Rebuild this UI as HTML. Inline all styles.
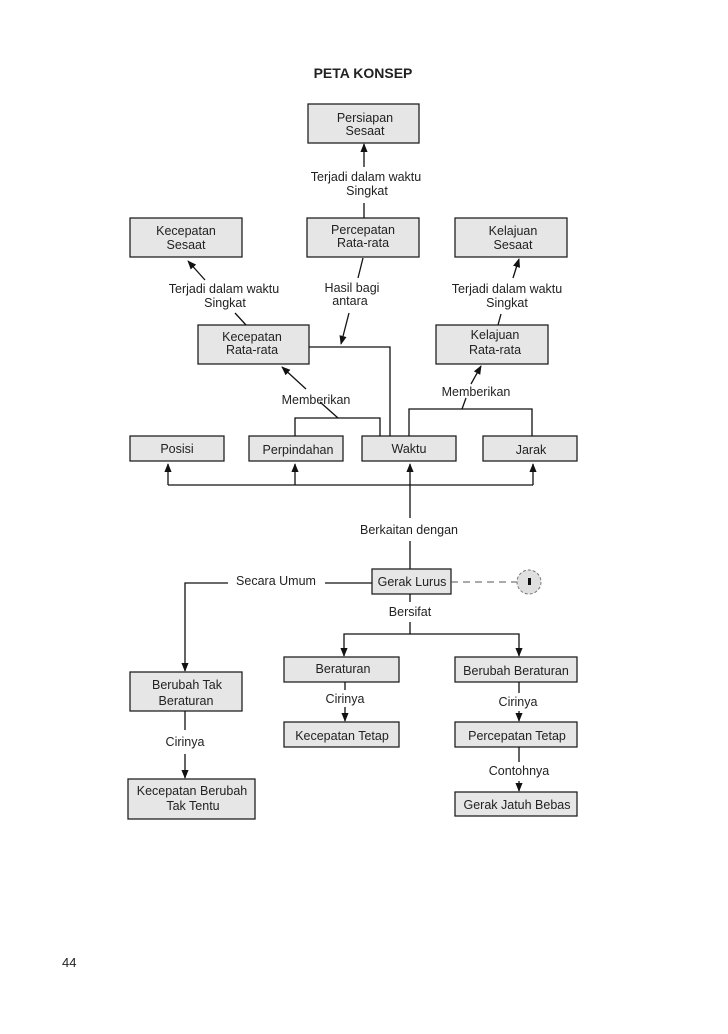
<!DOCTYPE html>
<html><head><meta charset="utf-8"><style>
html,body{margin:0;padding:0;background:#fff;}
svg{display:block;}
text{font-family:"Liberation Sans",Arial,sans-serif;font-size:12.5px;fill:#222;}
.b{fill:#e6e6e6;stroke:#222;stroke-width:1.3;}
.l{stroke:#111;stroke-width:1.3;fill:none;}
</style></head><body>
<svg width="728" height="1034" viewBox="0 0 728 1034" xmlns="http://www.w3.org/2000/svg">
<defs><marker id="a" viewBox="0 0 10 10" refX="9" refY="5" markerWidth="7" markerHeight="7" orient="auto-start-reverse"><path d="M0,1 L10,5 L0,9 z" fill="#111"/></marker></defs>
<text x="363" y="78" text-anchor="middle" style="font-weight:bold;font-size:14px">PETA KONSEP</text>

<!-- boxes -->
<rect class="b" x="308" y="104" width="111" height="39"/>
<text x="365" y="122" text-anchor="middle">Persiapan</text><text x="365" y="135" text-anchor="middle">Sesaat</text>
<rect class="b" x="130" y="218" width="112" height="39"/>
<text x="186" y="235" text-anchor="middle">Kecepatan</text><text x="186" y="249" text-anchor="middle">Sesaat</text>
<rect class="b" x="307" y="218" width="112" height="39"/>
<text x="363" y="234" text-anchor="middle">Percepatan</text><text x="363" y="247" text-anchor="middle">Rata-rata</text>
<rect class="b" x="455" y="218" width="112" height="39"/>
<text x="513" y="235" text-anchor="middle">Kelajuan</text><text x="513" y="249" text-anchor="middle">Sesaat</text>
<rect class="b" x="198" y="325" width="111" height="39"/>
<text x="252" y="341" text-anchor="middle">Kecepatan</text><text x="252" y="354" text-anchor="middle">Rata-rata</text>
<rect class="b" x="436" y="325" width="112" height="39"/>
<text x="495" y="339" text-anchor="middle">Kelajuan</text><text x="495" y="354" text-anchor="middle">Rata-rata</text>
<rect class="b" x="130" y="436" width="94" height="25"/><text x="177" y="453" text-anchor="middle">Posisi</text>
<rect class="b" x="249" y="436" width="94" height="25"/><text x="298" y="454" text-anchor="middle">Perpindahan</text>
<rect class="b" x="362" y="436" width="94" height="25"/><text x="409" y="453" text-anchor="middle">Waktu</text>
<rect class="b" x="483" y="436" width="94" height="25"/><text x="531" y="454" text-anchor="middle">Jarak</text>

<!-- top connectors -->
<line class="l" x1="364" y1="167" x2="364" y2="144" marker-end="url(#a)"/>
<line class="l" x1="364" y1="203" x2="364" y2="218"/>
<text x="366" y="181" text-anchor="middle">Terjadi dalam waktu</text><text x="367" y="195" text-anchor="middle">Singkat</text>
<line class="l" x1="205" y1="280" x2="188" y2="261" marker-end="url(#a)"/>
<line class="l" x1="235" y1="313" x2="246" y2="325"/>
<text x="224" y="293" text-anchor="middle">Terjadi dalam waktu</text><text x="225" y="307" text-anchor="middle">Singkat</text>
<line class="l" x1="363" y1="258" x2="358" y2="278"/>
<line class="l" x1="349" y1="313" x2="341" y2="344" marker-end="url(#a)"/>
<text x="352" y="292" text-anchor="middle">Hasil bagi</text><text x="350" y="305" text-anchor="middle">antara</text>
<line class="l" x1="513" y1="278" x2="519" y2="259" marker-end="url(#a)"/>
<line class="l" x1="498" y1="325" x2="501" y2="314"/>
<text x="507" y="293" text-anchor="middle">Terjadi dalam waktu</text><text x="507" y="307" text-anchor="middle">Singkat</text>
<polyline class="l" points="309,347 390,347 390,436"/>
<polyline class="l" points="295,436 295,418 380,418 380,436"/>
<line class="l" x1="338" y1="418" x2="320" y2="402"/>
<line class="l" x1="306" y1="389" x2="282" y2="367" marker-end="url(#a)"/>
<text x="316" y="404" text-anchor="middle">Memberikan</text>
<polyline class="l" points="409,436 409,409 532,409 532,436"/>
<line class="l" x1="462" y1="409" x2="466" y2="398"/>
<line class="l" x1="471" y1="384" x2="481" y2="366" marker-end="url(#a)"/>
<text x="476" y="396" text-anchor="middle">Memberikan</text>

<!-- bus -->
<polyline class="l" points="168,485 533,485"/>
<line class="l" x1="168" y1="485" x2="168" y2="464" marker-end="url(#a)"/>
<line class="l" x1="295" y1="485" x2="295" y2="464" marker-end="url(#a)"/>
<line class="l" x1="410" y1="485" x2="410" y2="464" marker-end="url(#a)"/>
<line class="l" x1="533" y1="485" x2="533" y2="464" marker-end="url(#a)"/>
<line class="l" x1="410" y1="485" x2="410" y2="518"/>
<text x="409" y="534" text-anchor="middle">Berkaitan dengan</text>
<line class="l" x1="410" y1="541" x2="410" y2="569"/>

<rect class="b" x="372" y="569" width="79" height="25"/><text x="412" y="586" text-anchor="middle">Gerak Lurus</text>
<line x1="451" y1="582" x2="517" y2="582" stroke="#555" stroke-width="1" stroke-dasharray="7,5"/>
<circle cx="529" cy="582" r="12" fill="#e0e0e0" stroke="#777" stroke-dasharray="3,2"/>
<rect x="528" y="578" width="3" height="7" fill="#111"/>

<line class="l" x1="372" y1="583" x2="325" y2="583"/>
<text x="276" y="585" text-anchor="middle">Secara Umum</text>
<polyline class="l" points="228,583 185,583 185,671" marker-end="url(#a)"/>
<rect class="b" x="130" y="672" width="112" height="39"/>
<text x="187" y="689" text-anchor="middle">Berubah Tak</text><text x="186" y="705" text-anchor="middle">Beraturan</text>
<line class="l" x1="185" y1="711" x2="185" y2="730"/>
<text x="185" y="746" text-anchor="middle">Cirinya</text>
<line class="l" x1="185" y1="754" x2="185" y2="778" marker-end="url(#a)"/>
<rect class="b" x="128" y="779" width="127" height="40"/>
<text x="192" y="795" text-anchor="middle">Kecepatan Berubah</text><text x="193" y="810" text-anchor="middle">Tak Tentu</text>

<line class="l" x1="410" y1="594" x2="410" y2="602"/>
<text x="410" y="616" text-anchor="middle">Bersifat</text>
<line class="l" x1="410" y1="622" x2="410" y2="634"/>
<polyline class="l" points="344,656 344,634 519,634 519,656" marker-start="url(#a)" marker-end="url(#a)"/>
<rect class="b" x="284" y="657" width="115" height="25"/><text x="343" y="673" text-anchor="middle">Beraturan</text>
<rect class="b" x="455" y="657" width="122" height="25"/><text x="516" y="675" text-anchor="middle">Berubah Beraturan</text>
<line class="l" x1="345" y1="682" x2="345" y2="690"/>
<text x="345" y="703" text-anchor="middle">Cirinya</text>
<line class="l" x1="345" y1="707" x2="345" y2="721" marker-end="url(#a)"/>
<rect class="b" x="284" y="722" width="115" height="25"/><text x="342" y="740" text-anchor="middle">Kecepatan Tetap</text>
<line class="l" x1="519" y1="682" x2="519" y2="693"/>
<text x="518" y="706" text-anchor="middle">Cirinya</text>
<line class="l" x1="519" y1="711" x2="519" y2="721" marker-end="url(#a)"/>
<rect class="b" x="455" y="722" width="122" height="25"/><text x="517" y="740" text-anchor="middle">Percepatan Tetap</text>
<line class="l" x1="519" y1="747" x2="519" y2="762"/>
<text x="519" y="775" text-anchor="middle">Contohnya</text>
<line class="l" x1="519" y1="781" x2="519" y2="791" marker-end="url(#a)"/>
<rect class="b" x="455" y="792" width="122" height="24"/><text x="517" y="809" text-anchor="middle">Gerak Jatuh Bebas</text>

<text x="62" y="967" style="font-size:13px">44</text>
</svg>
</body></html>
